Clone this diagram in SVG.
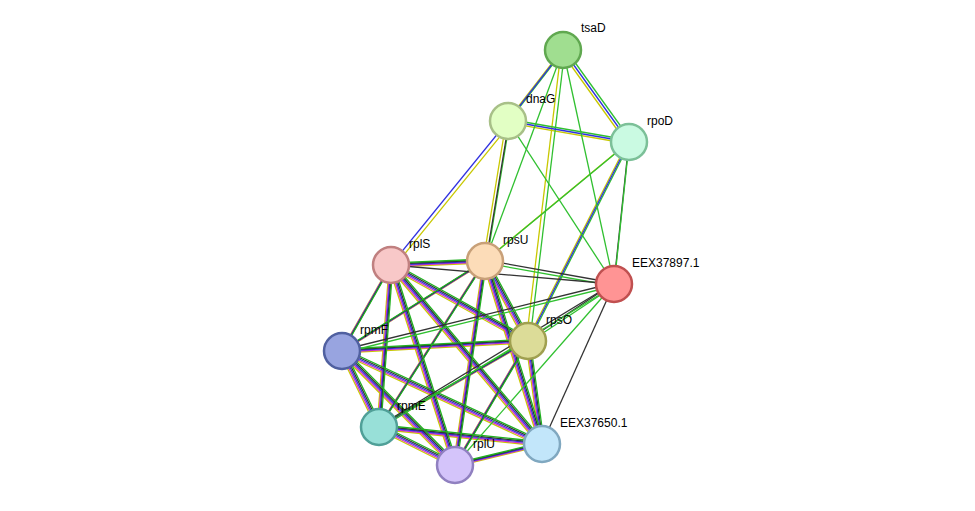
<svg xmlns="http://www.w3.org/2000/svg" xmlns:xlink="http://www.w3.org/1999/xlink" width="975" height="511" viewBox="0 0 975 511">
<style>
line{stroke-width:1.3;fill:none}
.n circle{stroke-width:2.5}
text{font-family:"Liberation Sans",Arial,sans-serif;font-size:12px;fill:#000}
</style>
<defs>
<g id="cl">
<line x1="391" y1="265" x2="485" y2="261"/><line x1="391" y1="265" x2="342" y2="351"/><line x1="391" y1="265" x2="528" y2="341"/><line x1="391" y1="265" x2="379" y2="427"/><line x1="391" y1="265" x2="455" y2="465"/><line x1="391" y1="265" x2="542" y2="444"/>
<line x1="485" y1="261" x2="342" y2="351"/><line x1="485" y1="261" x2="528" y2="341"/><line x1="485" y1="261" x2="379" y2="427"/><line x1="485" y1="261" x2="455" y2="465"/><line x1="485" y1="261" x2="542" y2="444"/>
<line x1="342" y1="351" x2="528" y2="341"/><line x1="342" y1="351" x2="379" y2="427"/><line x1="342" y1="351" x2="455" y2="465"/><line x1="342" y1="351" x2="542" y2="444"/>
<line x1="528" y1="341" x2="379" y2="427"/><line x1="528" y1="341" x2="455" y2="465"/><line x1="528" y1="341" x2="542" y2="444"/>
<line x1="379" y1="427" x2="455" y2="465"/><line x1="379" y1="427" x2="542" y2="444"/><line x1="455" y1="465" x2="542" y2="444"/>
</g>
<g id="gy">
<line x1="563" y1="50" x2="508" y2="121"/><line x1="563" y1="50" x2="629" y2="142"/><line x1="563" y1="50" x2="528" y2="341"/><line x1="508" y1="121" x2="629" y2="142"/><line x1="508" y1="121" x2="485" y2="261"/><line x1="629" y1="142" x2="485" y2="261"/><line x1="629" y1="142" x2="528" y2="341"/>
</g>
<g id="bl"><line x1="563" y1="50" x2="508" y2="121"/><line x1="563" y1="50" x2="629" y2="142"/><line x1="508" y1="121" x2="629" y2="142"/><line x1="629" y1="142" x2="528" y2="341"/><line x1="508" y1="121" x2="391" y2="265"/></g>
<g id="eg"><line x1="614" y1="284" x2="629" y2="142"/><line x1="614" y1="284" x2="485" y2="261"/><line x1="614" y1="284" x2="342" y2="351"/><line x1="614" y1="284" x2="528" y2="341"/><line x1="614" y1="284" x2="379" y2="427"/></g>
</defs>
<g id="connectors">
<use href="#cl" stroke="#c8c800" transform="translate(-2,2)"/>
<use href="#cl" stroke="#d030d0" transform="translate(-1,1)"/>
<use href="#cl" stroke="#3030e0" transform="translate(0,0)"/>
<use href="#cl" stroke="#333" transform="translate(1,-1)"/>
<use href="#cl" stroke="#20b020" transform="translate(2,-2)"/>
<use href="#gy" stroke="#c8c800" transform="translate(-2,1.5)"/>
<use href="#gy" stroke="#30c030" transform="translate(2,-1.5)"/>
<use href="#bl" stroke="#3030e0"/>
<line x1="508" y1="121" x2="391" y2="265" stroke="#c8c800" transform="translate(3,2)"/>
<use href="#eg" stroke="#333" transform="translate(0,-1)"/>
<use href="#eg" stroke="#30c030" transform="translate(0,2)"/>
<g stroke="#30c030"><line x1="563" y1="50" x2="485" y2="261"/><line x1="563" y1="50" x2="614" y2="284"/><line x1="508" y1="121" x2="614" y2="284"/><line x1="614" y1="284" x2="455" y2="465"/></g>
<g stroke="#333"><line x1="614" y1="284" x2="391" y2="265"/><line x1="614" y1="284" x2="542" y2="444"/><line x1="508" y1="121" x2="485" y2="261" transform="translate(1,0)"/></g>
</g>
<g id="tsaD" class="n"><circle cx="563" cy="50" r="18" fill="#a0de90" stroke="#60a850"/><text x="581" y="32">tsaD</text></g>
<g id="dnaG" class="n"><circle cx="508" cy="121" r="18" fill="#e2ffc4" stroke="#a8c088"/><text x="526" y="103">dnaG</text></g>
<g id="rpoD" class="n"><circle cx="629" cy="142" r="18" fill="#cafae2" stroke="#7cc098"/><text x="647" y="125">rpoD</text></g>
<g id="rplS" class="n"><circle cx="391" cy="265" r="18" fill="#f8c8c8" stroke="#c08080"/><text x="409" y="248">rplS</text></g>
<g id="rpsU" class="n"><circle cx="485" cy="261" r="18" fill="#fcdcb8" stroke="#c8a078"/><text x="503" y="244">rpsU</text></g>
<g id="EEX37897.1" class="n"><circle cx="614" cy="284" r="18" fill="#ff9494" stroke="#c05050"/><text x="632" y="267">EEX37897.1</text></g>
<g id="rpmF" class="n"><circle cx="342" cy="351" r="18" fill="#98a4e0" stroke="#5060a0"/><text x="360" y="334">rpmF</text></g>
<g id="rpsO" class="n"><circle cx="528" cy="341" r="18" fill="#dcdc98" stroke="#a0a050"/><text x="546" y="324">rpsO</text></g>
<g id="rpmE" class="n"><circle cx="379" cy="427" r="18" fill="#98e0d8" stroke="#50a098"/><text x="397" y="410">rpmE</text></g>
<g id="rplU" class="n"><circle cx="455" cy="465" r="18" fill="#d4c4fa" stroke="#9080c0"/><text x="473" y="448">rplU</text></g>
<g id="EEX37650.1" class="n"><circle cx="542" cy="444" r="18" fill="#c2e6fa" stroke="#80a8c0"/><text x="560" y="427">EEX37650.1</text></g>
</svg>
